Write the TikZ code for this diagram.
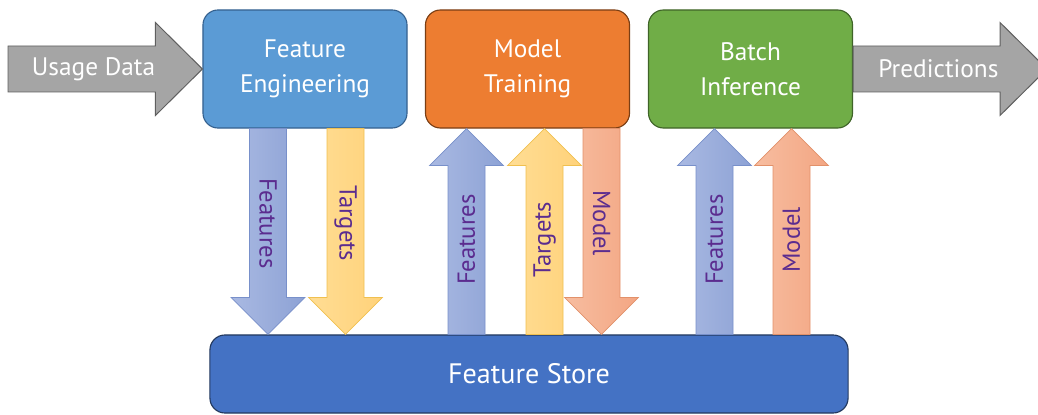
\documentclass[tikz,border=0pt]{standalone}
\usepackage{fontspec}
\setmainfont{PT Sans}
\usetikzlibrary{calc}

\definecolor{feblue}{HTML}{5B9BD5}
\definecolor{feline}{HTML}{35618F}
\definecolor{mtorange}{HTML}{ED7D31}
\definecolor{mtline}{HTML}{7A3E14}
\definecolor{bigreen}{HTML}{70AD47}
\definecolor{biline}{HTML}{3F6428}
\definecolor{fsblue}{HTML}{4472C4}
\definecolor{fsline}{HTML}{23395E}
\definecolor{flowgray}{HTML}{A5A5A5}
\definecolor{flowline}{HTML}{5F5F5F}
\definecolor{lblpurple}{HTML}{5B2C8F}

% block arrow: style, start, end, head side (1 down, -1 up), text rotation, text
\newcommand{\blockarrow}[6]{%
  \draw[#1] ($(#2)+(-18.5,0)$) -- ($(#2)+(18.5,0)$) -- ($(#3)+(18.5,#4*37)$)
    -- ($(#3)+(37,#4*37)$) -- (#3) -- ($(#3)+(-37,#4*37)$) -- ($(#3)+(-18.5,#4*37)$) -- cycle;
  \node[lbl,rotate=#5] at ($(#2)!0.46!(#3)$) {#6};}

% wide gray arrow: start, end, text
\newcommand{\flowarrow}[3]{%
  \draw[flow] ($(#1)+(0,23)$) -- ($(#2)+(-47,23)$) -- ($(#2)+(-47,46.5)$) -- (#2)
    -- ($(#2)+(-47,-46.5)$) -- ($(#2)+(-47,-23)$) -- ($(#1)+(0,-23)$) -- cycle;
  \node[boxtext] at ($(#1)!0.44!(#2)$) {#3};}

\begin{document}
\begin{tikzpicture}[x=0.025cm,y=0.025cm,>=latex]
\tikzset{
  box/.style={draw,line width=0.8pt,rounded corners=0.375cm,minimum width=5.1cm,minimum height=2.95cm,
    align=center,text=white,font=\fontsize{18}{25}\selectfont},
  boxtext/.style={text=white,font=\fontsize{18}{25}\selectfont},
  lbl/.style={text=lblpurple,font=\fontsize{17.5}{23}\selectfont},
  flow/.style={fill=flowgray,draw=flowline,line width=0.7pt},
  featarrow/.style={left color=featlight,right color=featdark,draw=featline,line width=0.5pt},
  targarrow/.style={left color=targlight,right color=targdark,draw=targline,line width=0.5pt},
  modarrow/.style={left color=modlight,right color=moddark,draw=modline,line width=0.5pt}
}
\definecolor{featlight}{HTML}{A9B9E2}\definecolor{featdark}{HTML}{8DA2D5}\definecolor{featline}{HTML}{7890CA}
\definecolor{targlight}{HTML}{FFDD94}\definecolor{targdark}{HTML}{FFD27A}\definecolor{targline}{HTML}{F0C050}
\definecolor{modlight}{HTML}{F7BDA0}\definecolor{moddark}{HTML}{F3A683}\definecolor{modline}{HTML}{E2916A}

\useasboundingbox (0,0) rectangle (1038,414);
\clip (0,0) rectangle (1038,414);

\node[box,fill=feblue,draw=feline] (fe) at (305,345) {Feature\\Engineering};
\node[box,fill=mtorange,draw=mtline] (mt) at (527.5,345) {Model\\Training};
\node[box,fill=bigreen,draw=biline] (bi) at (750.5,345) {Batch\\Inference};
\node[box,fill=fsblue,draw=fsline,minimum width=15.95cm,minimum height=1.95cm,
  font=\fontsize{20}{25}\selectfont] (fs) at (529,40) {Feature Store};

\coordinate (usage) at (8,345);
\coordinate (pred) at (1047,345);
\flowarrow{usage}{fe.west}{Usage Data}
\flowarrow{bi.east}{pred}{Predictions}

\coordinate (fe1) at ($(fe.south)+(-37,0)$);
\coordinate (fe2) at ($(fe.south)+(40.5,0)$);
\coordinate (mt1) at ($(mt.south)+(-61,0)$);
\coordinate (mt2) at ($(mt.south)+(17,0)$);
\coordinate (mt3) at ($(mt.south)+(74,0)$);
\coordinate (bi1) at ($(bi.south)+(-36,0)$);
\coordinate (bi2) at ($(bi.south)+(41,0)$);

\blockarrow{featarrow}{fe1}{fe1 |- fs.north}{1}{-90}{Features}
\blockarrow{targarrow}{fe2}{fe2 |- fs.north}{1}{-90}{Targets}
\blockarrow{featarrow}{mt1 |- fs.north}{mt1}{-1}{90}{Features}
\blockarrow{targarrow}{mt2 |- fs.north}{mt2}{-1}{90}{Targets}
\blockarrow{modarrow}{mt3}{mt3 |- fs.north}{1}{-90}{Model}
\blockarrow{featarrow}{bi1 |- fs.north}{bi1}{-1}{90}{Features}
\blockarrow{modarrow}{bi2 |- fs.north}{bi2}{-1}{90}{Model}
\end{tikzpicture}
\end{document}
